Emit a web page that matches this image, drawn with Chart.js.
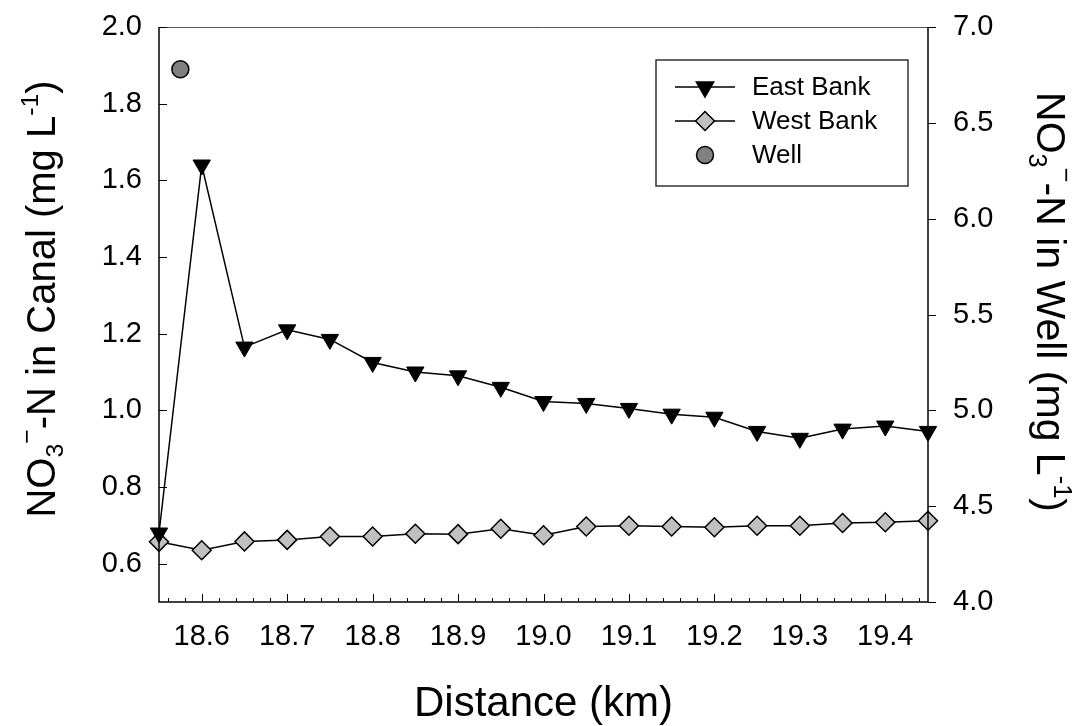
<!DOCTYPE html>
<html>
<head>
<meta charset="utf-8">
<script src="https://cdn.jsdelivr.net/npm/chart.js@4.4.1/dist/chart.umd.min.js"></script>
<style>
    html, body { margin: 0; padding: 0; background: #fff; }
    #wrap { width: 1078px; height: 726px; position: relative; }
</style>
</head>
<body>
<div id="wrap"><canvas id="nitrateChart"></canvas></div>
<script>
// Data
const distanceKm = [18.55, 18.60, 18.65, 18.70, 18.75, 18.80, 18.85, 18.90, 18.95, 19.00,
                    19.05, 19.10, 19.15, 19.20, 19.25, 19.30, 19.35, 19.40, 19.45];
const eastBank = [0.68, 1.64, 1.165, 1.21, 1.185, 1.125, 1.10, 1.09, 1.06, 1.023,
                  1.018, 1.005, 0.99, 0.982, 0.945, 0.927, 0.951, 0.959, 0.945];
const westBank = [0.657, 0.635, 0.658, 0.662, 0.671, 0.671, 0.678, 0.677, 0.691, 0.674,
                  0.697, 0.699, 0.697, 0.695, 0.699, 0.699, 0.706, 0.708, 0.712];
const wellDistance = [18.575];
const wellNitrate = [6.78];

// Tick labels
const xTicks = [18.6, 18.7, 18.8, 18.9, 19.0, 19.1, 19.2, 19.3, 19.4];
const canalTicks = [0.6, 0.8, 1.0, 1.2, 1.4, 1.6, 1.8, 2.0];
const wellTicks = [4.0, 4.5, 5.0, 5.5, 6.0, 6.5, 7.0];

const FONT = '"Liberation Sans", Arial, Helvetica, sans-serif';

// Draws text made of pieces with sub/superscripts, centred on (x, y) and rotated
function drawRichText(ctx, parts, x, y, angle, size) {
    ctx.save();
    ctx.translate(x, y);
    ctx.rotate(angle);
    ctx.fillStyle = '#000';
    ctx.textBaseline = 'alphabetic';
    let total = 0;
    parts.forEach(p => {
        ctx.font = `${size * (p.s || 1)}px ${FONT}`;
        p.w = ctx.measureText(p.t).width;
        total += p.w;
    });
    let cx = -total / 2;
    parts.forEach(p => {
        ctx.font = `${size * (p.s || 1)}px ${FONT}`;
        ctx.fillText(p.t, cx, (p.dy || 0) * size);
        cx += p.w;
    });
    ctx.restore();
}

function drawMarker(ctx, style, x, y, r, fill) {
    ctx.save();
    ctx.fillStyle = fill;
    ctx.strokeStyle = '#000';
    ctx.lineWidth = 1.5;
    ctx.beginPath();
    if (style === 'triangleDown') {
        ctx.moveTo(x, y + r);
        ctx.lineTo(x - r * Math.sin(Math.PI / 3), y - r / 2);
        ctx.lineTo(x + r * Math.sin(Math.PI / 3), y - r / 2);
        ctx.closePath();
    } else if (style === 'diamond') {
        ctx.moveTo(x - r, y);
        ctx.lineTo(x, y - r);
        ctx.lineTo(x + r, y);
        ctx.lineTo(x, y + r);
        ctx.closePath();
    } else {
        ctx.arc(x, y, r, 0, Math.PI * 2);
    }
    ctx.fill();
    ctx.stroke();
    ctx.restore();
}

const framePlugin = {
    id: 'frame',
    afterDatasetsDraw(chart) {
        const { ctx, chartArea: a, scales } = chart;
        const x = scales.x, y = scales.y, y2 = scales.y2;
        ctx.save();
        // top line
        ctx.strokeStyle = '#555';
        ctx.lineWidth = 1;
        ctx.beginPath();
        ctx.moveTo(a.left, a.top + 0.5);
        ctx.lineTo(a.right, a.top + 0.5);
        ctx.stroke();

        ctx.strokeStyle = '#000';
        ctx.lineWidth = 1.5;
        ctx.beginPath();
        ctx.moveTo(a.left, a.top);
        ctx.lineTo(a.left, a.bottom);
        ctx.lineTo(a.right, a.bottom);
        ctx.moveTo(a.right, a.top);
        ctx.lineTo(a.right, a.bottom);
        ctx.stroke();

        ctx.lineWidth = 1;
        ctx.beginPath();
        // left axis ticks point inward
        y.ticks.forEach(t => {
            const py = Math.round(y.getPixelForValue(t.value)) + 0.5;
            ctx.moveTo(a.left, py);
            ctx.lineTo(a.left + 8, py);
        });
        // right axis ticks point outward
        y2.ticks.forEach(t => {
            const py = Math.round(y2.getPixelForValue(t.value)) + 0.5;
            ctx.moveTo(a.right, py);
            ctx.lineTo(a.right + 8, py);
        });
        // bottom axis: majors every 0.1, minors every 0.02, inward
        for (let k = 928; k <= 972; k += 1) {
            const major = k % 5 === 0;
            const px = Math.round(x.getPixelForValue(k / 50)) + 0.5;
            ctx.moveTo(px, a.bottom);
            ctx.lineTo(px, a.bottom - (major ? 8 : 4));
        }
        ctx.stroke();
        ctx.restore();
    },
    afterDraw(chart) {
        const { ctx, chartArea: a } = chart;

        // axis titles
        ctx.save();
        ctx.font = `42px ${FONT}`;
        ctx.fillStyle = '#000';
        ctx.textAlign = 'center';
        ctx.textBaseline = 'alphabetic';
        ctx.fillText('Distance (km)', (a.left + a.right) / 2, 716);
        ctx.restore();

        drawRichText(ctx, [
            { t: 'NO' }, { t: '3', s: 0.62, dy: 0.2 }, { t: '\u2212', s: 0.62, dy: -0.5 },
            { t: '-N in Canal (mg L' }, { t: '-1', s: 0.62, dy: -0.42 }, { t: ')' }
        ], 55, 299, -Math.PI / 2, 40);

        drawRichText(ctx, [
            { t: 'NO' }, { t: '3', s: 0.62, dy: 0.2 }, { t: '\u2212', s: 0.62, dy: -0.5 },
            { t: '-N in Well (mg L' }, { t: '-1', s: 0.62, dy: -0.42 }, { t: ')' }
        ], 1037, 302, Math.PI / 2, 41);

        // legend box
        ctx.save();
        ctx.strokeStyle = '#333';
        ctx.lineWidth = 1.5;
        ctx.strokeRect(656, 60, 252, 126);
        ctx.strokeStyle = '#000';
        ctx.lineWidth = 1.5;
        const rows = [
            { label: 'East Bank', style: 'triangleDown', fill: '#000', r: 10, line: true },
            { label: 'West Bank', style: 'diamond', fill: '#c0c0c0', r: 9.5, line: true },
            { label: 'Well', style: 'circle', fill: '#808080', r: 8.5, line: false }
        ];
        rows.forEach((row, i) => {
            const ly = 87 + i * 34;
            if (row.line) {
                ctx.beginPath();
                ctx.moveTo(675, ly);
                ctx.lineTo(735, ly);
                ctx.stroke();
            }
            drawMarker(ctx, row.style, 705, ly, row.r, row.fill);
            ctx.font = `26px ${FONT}`;
            ctx.fillStyle = '#000';
            ctx.textAlign = 'left';
            ctx.textBaseline = 'middle';
            ctx.fillText(row.label, 752, ly + 1);
        });
        ctx.restore();
    }
};

const tickFont = { family: FONT, size: 29 };
const noGrid = { display: false, drawTicks: false };
const setTicks = list => s => { s.ticks = list.map(v => ({ value: v })); };

new Chart(document.getElementById('nitrateChart'), {
    type: 'line',
    data: {
        datasets: [
            {
                label: 'East Bank',
                data: distanceKm.map((d, i) => ({ x: d, y: eastBank[i] })),
                yAxisID: 'y',
                borderColor: '#000',
                borderWidth: 1.5,
                pointStyle: 'triangle',
                rotation: 180,
                pointRadius: 10,
                pointBackgroundColor: '#000',
                pointBorderColor: '#000',
                pointBorderWidth: 1,
                clip: false
            },
            {
                label: 'West Bank',
                data: distanceKm.map((d, i) => ({ x: d, y: westBank[i] })),
                yAxisID: 'y',
                borderColor: '#000',
                borderWidth: 1.5,
                pointStyle: 'rectRot',
                pointRadius: 9.5,
                pointBackgroundColor: '#c0c0c0',
                pointBorderColor: '#000',
                pointBorderWidth: 1.5,
                clip: false
            },
            {
                label: 'Well',
                data: wellDistance.map((d, i) => ({ x: d, y: wellNitrate[i] })),
                yAxisID: 'y2',
                showLine: false,
                pointStyle: 'circle',
                pointRadius: 8.5,
                pointBackgroundColor: '#808080',
                pointBorderColor: '#000',
                pointBorderWidth: 1.5,
                clip: false
            }
        ]
    },
    options: {
        responsive: true,
        maintainAspectRatio: false,
        animation: false,
        devicePixelRatio: 1,
        layout: { autoPadding: false, padding: { top: 27, left: 0, right: 0, bottom: 0 } },
        plugins: { legend: { display: false }, tooltip: { enabled: false } },
        scales: {
            x: {
                type: 'linear',
                min: 18.55,
                max: 19.45,
                grid: noGrid,
                border: { display: false },
                afterBuildTicks: setTicks(xTicks),
                ticks: {
                    autoSkip: false,
                    maxRotation: 0,
                    padding: 18,
                    color: '#000',
                    font: tickFont,
                    callback: v => v.toFixed(1)
                },
                afterFit: s => { s.height = 124; s.paddingLeft = 0; s.paddingRight = 0; }
            },
            y: {
                position: 'left',
                min: 0.5,
                max: 2.0,
                grid: noGrid,
                border: { display: false },
                afterBuildTicks: setTicks(canalTicks),
                ticks: {
                    padding: 17,
                    color: '#000',
                    font: tickFont,
                    callback: v => v.toFixed(1)
                },
                afterFit: s => { s.width = 159; s.paddingTop = 0; s.paddingBottom = 0; }
            },
            y2: {
                position: 'right',
                min: 4.0,
                max: 7.0,
                grid: noGrid,
                border: { display: false },
                afterBuildTicks: setTicks(wellTicks),
                ticks: {
                    padding: 25,
                    color: '#000',
                    font: tickFont,
                    callback: v => v.toFixed(1)
                },
                afterFit: s => { s.width = 150; s.paddingTop = 0; s.paddingBottom = 0; }
            }
        }
    },
    plugins: [framePlugin]
});
</script>
</body>
</html>
